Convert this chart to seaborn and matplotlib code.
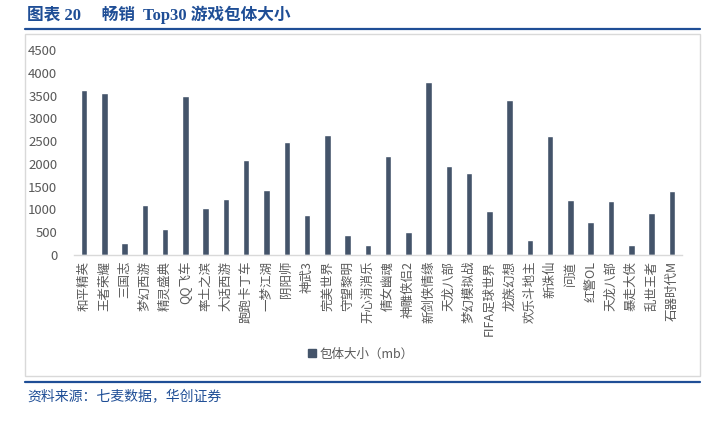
import matplotlib
matplotlib.use("Agg")
import matplotlib.pyplot as plt
import matplotlib.patches as mpatches
import matplotlib.lines as mlines
import pandas as pd
import seaborn as sns

# data
games = ["和平精英", "王者荣耀", "三国志", "梦幻西游", "精灵盛典", "QQ飞车", "率土之滨",
         "大话西游", "跑跑卡丁车", "一梦江湖", "阴阳师", "神武3", "完美世界", "守望黎明",
         "开心消消乐", "倩女幽魂", "神雕侠侣2", "新剑侠情缘", "天龙八部", "梦幻模拟战",
         "FIFA足球世界", "龙族幻想", "欢乐斗地主", "新诛仙", "问道", "红警OL", "天龙八部 ",
         "暴走大侠", "乱世王者", "石器时代M"]
size_mb = [3620, 3560, 260, 1100, 560, 3480, 1040, 1230, 2090, 1420,
           2480, 870, 2640, 430, 230, 2180, 510, 3800, 1950, 1790,
           970, 3400, 340, 2610, 1200, 720, 1190, 220, 920, 1410]
yticks = [0, 500, 1000, 1500, 2000, 2500, 3000, 3500, 4000, 4500]
series_name = "包体大小（mb）"
title = "图表 20　 畅销  Top30 游戏包体大小"
source = "资料来源：七麦数据，华创证券"

sns.set_theme(style="white")
plt.rcParams["font.family"] = ["Noto Sans CJK SC", "DejaVu Sans"]

bar_color = "#44546A"
blue = "#1F4E96"
grey_text = "#595959"

df = pd.DataFrame({"game": games, "size": size_mb})

fig = plt.figure(figsize=(7.22, 4.29), dpi=100)
ax = fig.add_axes([0.1025, 0.4056, 0.842, 0.4778])

sns.barplot(data=df, x="game", y="size", color=bar_color, width=0.32,
            saturation=1, ax=ax)

ax.set_ylim(0, 4500)
ax.set_yticks(yticks)
ax.set_xlim(-0.5, len(games) - 0.5)
ax.set_xlabel("")
ax.set_ylabel("")
ax.tick_params(axis="y", labelsize=9.5, labelcolor=grey_text, length=0, pad=12)
ax.tick_params(axis="x", labelsize=9, labelcolor=grey_text, length=0, pad=4)
ax.set_xticks(range(len(games)))
ax.set_xticklabels([g.strip() for g in games], rotation=90)
for s in ["top", "right", "left"]:
    ax.spines[s].set_visible(False)
ax.spines["bottom"].set_color("#D9D9D9")
ax.spines["bottom"].set_linewidth(1)

# legend
handle = mpatches.Patch(color=bar_color, label=series_name)
fig.legend(handles=[handle], loc="center", bbox_to_anchor=(0.5, 1 - 354 / 429),
           frameon=False, fontsize=9, handlelength=0.6, handleheight=0.6,
           handletextpad=0.3, labelcolor=grey_text)

# chart box
box = mpatches.Rectangle((25 / 722, 1 - 376 / 429), 675 / 722, 342 / 429,
                         transform=fig.transFigure, fill=False,
                         edgecolor="#D9D9D9", linewidth=1)
fig.add_artist(box)

# title and rules
fig.text(27 / 722, 1 - 15 / 429, title, fontsize=12, fontweight="bold",
         family=["Liberation Serif", "Noto Sans CJK SC"],
         color=blue, va="center", ha="left")
fig.add_artist(mlines.Line2D([25 / 722, 700 / 722], [1 - 28.5 / 429] * 2,
                             transform=fig.transFigure, color=blue, linewidth=1.6))
fig.add_artist(mlines.Line2D([25 / 722, 700 / 722], [1 - 382 / 429] * 2,
                             transform=fig.transFigure, color=blue, linewidth=1.6))
fig.text(27 / 722, 1 - 396 / 429, source, fontsize=10, style="italic",
         color=blue, va="center", ha="left")

fig.savefig("out.png", dpi=100)
